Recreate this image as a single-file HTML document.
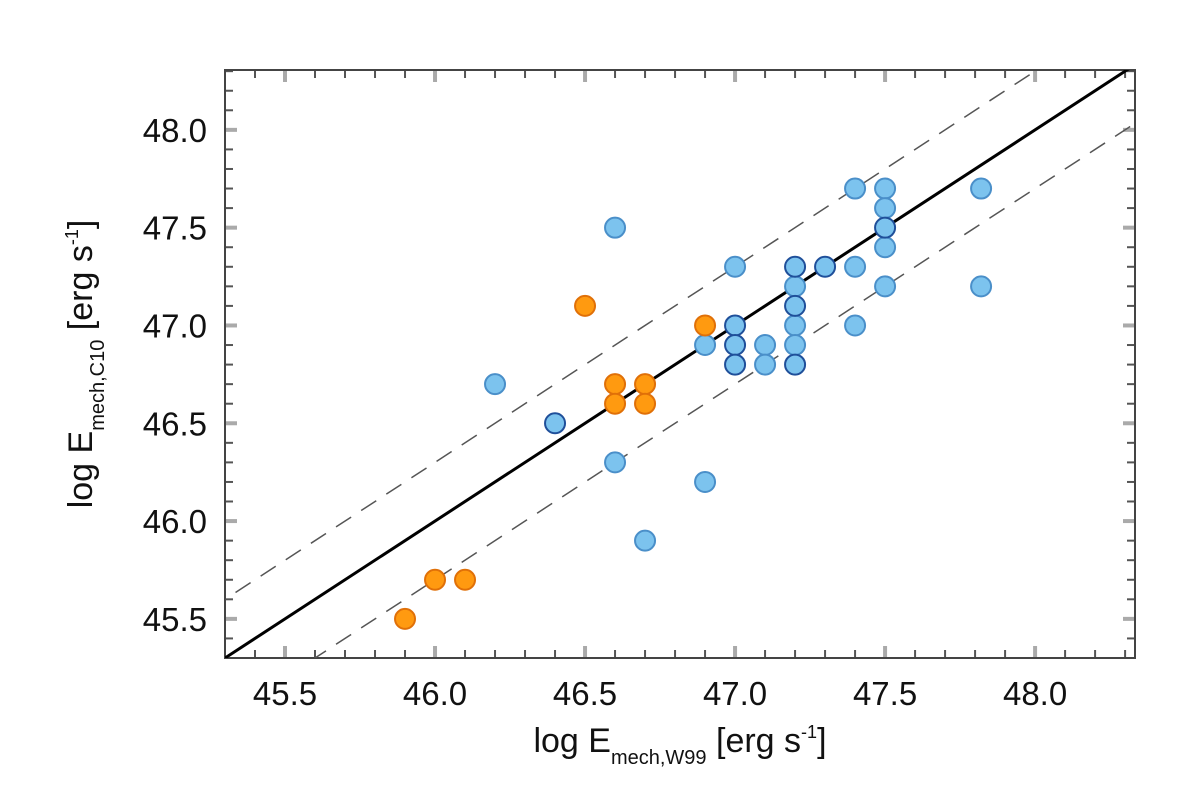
<!DOCTYPE html>
<html><head><meta charset="utf-8"><style>
body{margin:0;background:#fff}
svg text{font-family:"Liberation Sans",sans-serif;fill:#111}
</style></head><body>
<svg id="c" width="1200" height="799">
<text x="680" y="752" font-size="34" text-anchor="middle">log E<tspan font-size="20" dy="12">mech,W99</tspan><tspan dy="-12"> [erg s</tspan><tspan font-size="18" dy="-14">-1</tspan><tspan dy="14">]</tspan></text>
<text transform="translate(92,364) rotate(-90)" font-size="34" text-anchor="middle">log E<tspan font-size="20" dy="12">mech,C10</tspan><tspan dy="-12"> [erg s</tspan><tspan font-size="18" dy="-14">-1</tspan><tspan dy="14">]</tspan></text>
</svg>
<script>
const orangeX=[45.9,46.0,46.1,46.5,46.6,46.6,46.7,46.7,46.9];
const orangeY=[45.5,45.7,45.7,47.1,46.7,46.6,46.7,46.6,47.0];
const blueX=[46.2,46.6,46.6,46.7,46.9,46.9,47.0,47.1,47.1,47.2,47.2,47.2,47.4,47.4,47.4,47.5,47.5,47.5,47.5,47.82,47.82];
const blueY=[46.7,47.5,46.3,45.9,46.9,46.2,47.3,46.9,46.8,47.2,47.0,46.9,47.7,47.3,47.0,47.7,47.6,47.4,47.2,47.7,47.2];
const darkX=[46.4,47.0,47.0,47.0,47.2,47.2,47.2,47.3,47.5];
const darkY=[46.5,47.0,46.9,46.8,47.3,47.1,46.8,47.3,47.5];
const tickVals=[45.5,46.0,46.5,47.0,47.5,48.0];
const tickLabels=["45.5","46.0","46.5","47.0","47.5","48.0"];
const offset=0.3;
const X0=225,X1=1135,Y0=658,Y1=70,DX=[45.3,48.333],DY=[45.3,48.306];
const sx=v=>X0+(v-DX[0])/(DX[1]-DX[0])*(X1-X0);
const sy=v=>Y0-(v-DY[0])/(DY[1]-DY[0])*(Y0-Y1);
const svg=document.getElementById('c');const NS='http://www.w3.org/2000/svg';
function mk(t,a){const e=document.createElementNS(NS,t);for(const k in a)e.setAttribute(k,a[k]);svg.appendChild(e);return e;}
const cp=mk('clipPath',{id:'cp'});const r=document.createElementNS(NS,'rect');r.setAttribute('x',X0);r.setAttribute('y',Y1);r.setAttribute('width',X1-X0);r.setAttribute('height',Y0-Y1);cp.appendChild(r);
for(let i=0;i<=30;i++){const v=45.3+i*0.1;const major=tickVals.some(t=>Math.abs(t-v)<1e-6);
 const L=major?12:8,col=major?'#aaa':'#555',w=major?4:2;
 let e=mk('line',{x1:sx(v),x2:sx(v),y1:Y0,y2:Y0-L,stroke:col,'stroke-width':w});
 e=mk('line',{x1:sx(v),x2:sx(v),y1:Y1,y2:Y1+L,stroke:col,'stroke-width':w});
 e=mk('line',{x1:X0,x2:X0+L,y1:sy(v),y2:sy(v),stroke:col,'stroke-width':w});
 e=mk('line',{x1:X1,x2:X1-L,y1:sy(v),y2:sy(v),stroke:col,'stroke-width':w});}
tickVals.forEach((v,i)=>{let t=mk('text',{x:sx(v),y:Y0+47,'font-size':33,'text-anchor':'middle'});t.textContent=tickLabels[i];
 t=mk('text',{x:X0-18,y:sy(v)+12,'font-size':33,'text-anchor':'end'});t.textContent=tickLabels[i];});
let f=mk('rect',{x:X0,y:Y1,width:X1-X0,height:Y0-Y1,fill:'none',stroke:'#444','stroke-width':2});
[offset,-offset].forEach(o=>{const e=mk('line',{x1:sx(45),y1:sy(45+o),x2:sx(48.6),y2:sy(48.6+o),stroke:'#555','stroke-width':1.5,'stroke-dasharray':'18 12','clip-path':'url(#cp)'});});
let one=mk('line',{x1:sx(45.3),y1:sy(45.3),x2:sx(48.333),y2:sy(48.333),stroke:'#000','stroke-width':3,'clip-path':'url(#cp)'});
function pts(xs,ys,fill,stroke,name){xs.forEach((x,i)=>{const c=mk('circle',{cx:sx(x),cy:sy(ys[i]),r:10,fill:fill,stroke:stroke,'stroke-width':2});});}
pts(blueX,blueY,'#7cc3ee','#4a8fc9','blue-point');
pts(darkX,darkY,'#7cc3ee','#1f4f9a','blue-dark-point');
pts(orangeX,orangeY,'#ff9a10','#e07008','orange-point');
</script>
</body></html>
